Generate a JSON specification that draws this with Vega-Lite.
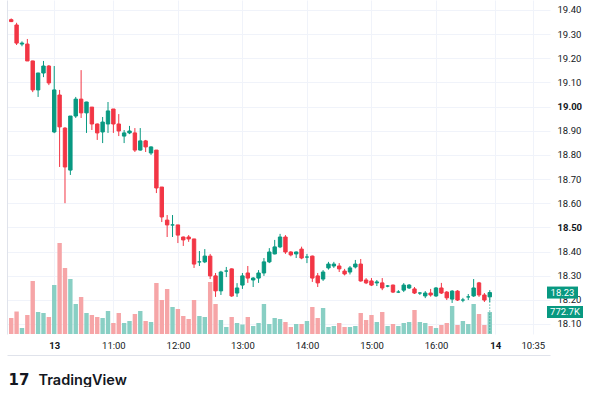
{
  "$schema": "https://vega.github.io/schema/vega-lite/v6.json",
  "width": 543,
  "height": 334,
  "padding": {"left": 7, "top": 0, "right": 0, "bottom": 0},
  "background": "#ffffff",
  "config": {"view": {"stroke": null}, "font": "Roboto"},
  "data": {
    "values": [
      {"i": 0, "open": 19.36, "high": 19.365, "low": 19.35, "close": 19.352, "volume": 560000},
      {"i": 1, "open": 19.338, "high": 19.347, "low": 19.255, "close": 19.263, "volume": 790000},
      {"i": 2, "open": 19.259, "high": 19.27, "low": 19.25, "close": 19.263, "volume": 211000},
      {"i": 3, "open": 19.259, "high": 19.28, "low": 19.189, "close": 19.189, "volume": 667000},
      {"i": 4, "open": 19.189, "high": 19.19, "low": 19.06, "close": 19.069, "volume": 1861000},
      {"i": 5, "open": 19.069, "high": 19.14, "low": 19.04, "close": 19.139, "volume": 773000},
      {"i": 6, "open": 19.139, "high": 19.189, "low": 19.122, "close": 19.168, "volume": 738000},
      {"i": 7, "open": 19.168, "high": 19.172, "low": 19.089, "close": 19.098, "volume": 597000},
      {"i": 8, "open": 18.895, "high": 19.168, "low": 18.89, "close": 19.069, "volume": 1721000},
      {"i": 9, "open": 19.048, "high": 19.069, "low": 18.75, "close": 18.916, "volume": 3196000},
      {"i": 10, "open": 18.911, "high": 18.915, "low": 18.6, "close": 18.75, "volume": 2318000},
      {"i": 11, "open": 18.737, "high": 18.961, "low": 18.717, "close": 18.961, "volume": 1932000},
      {"i": 12, "open": 18.961, "high": 19.04, "low": 18.953, "close": 19.031, "volume": 1054000},
      {"i": 13, "open": 19.031, "high": 19.151, "low": 18.953, "close": 18.974, "volume": 1299000},
      {"i": 14, "open": 18.974, "high": 19.02, "low": 18.891, "close": 19.019, "volume": 738000},
      {"i": 15, "open": 18.998, "high": 18.998, "low": 18.903, "close": 18.928, "volume": 667000},
      {"i": 16, "open": 18.928, "high": 18.93, "low": 18.862, "close": 18.891, "volume": 597000},
      {"i": 17, "open": 18.895, "high": 18.957, "low": 18.849, "close": 18.936, "volume": 562000},
      {"i": 18, "open": 18.928, "high": 19.019, "low": 18.891, "close": 18.982, "volume": 808000},
      {"i": 19, "open": 18.99, "high": 18.99, "low": 18.891, "close": 18.928, "volume": 386000},
      {"i": 20, "open": 18.928, "high": 18.969, "low": 18.878, "close": 18.899, "volume": 738000},
      {"i": 21, "open": 18.878, "high": 18.903, "low": 18.849, "close": 18.891, "volume": 386000},
      {"i": 22, "open": 18.891, "high": 18.92, "low": 18.886, "close": 18.899, "volume": 457000},
      {"i": 23, "open": 18.891, "high": 18.911, "low": 18.812, "close": 18.82, "volume": 702000},
      {"i": 24, "open": 18.82, "high": 18.911, "low": 18.818, "close": 18.858, "volume": 808000},
      {"i": 25, "open": 18.858, "high": 18.862, "low": 18.812, "close": 18.833, "volume": 457000},
      {"i": 26, "open": 18.808, "high": 18.835, "low": 18.8, "close": 18.833, "volume": 421000},
      {"i": 27, "open": 18.82, "high": 18.82, "low": 18.642, "close": 18.663, "volume": 1791000},
      {"i": 28, "open": 18.667, "high": 18.667, "low": 18.522, "close": 18.543, "volume": 1194000},
      {"i": 29, "open": 18.53, "high": 18.551, "low": 18.46, "close": 18.51, "volume": 1580000},
      {"i": 30, "open": 18.51, "high": 18.551, "low": 18.46, "close": 18.51, "volume": 948000},
      {"i": 31, "open": 18.51, "high": 18.51, "low": 18.435, "close": 18.468, "volume": 878000},
      {"i": 32, "open": 18.46, "high": 18.462, "low": 18.423, "close": 18.448, "volume": 632000},
      {"i": 33, "open": 18.46, "high": 18.468, "low": 18.44, "close": 18.452, "volume": 527000},
      {"i": 34, "open": 18.452, "high": 18.452, "low": 18.332, "close": 18.348, "volume": 1194000},
      {"i": 35, "open": 18.357, "high": 18.402, "low": 18.34, "close": 18.357, "volume": 632000},
      {"i": 36, "open": 18.357, "high": 18.41, "low": 18.352, "close": 18.381, "volume": 597000},
      {"i": 37, "open": 18.381, "high": 18.39, "low": 18.286, "close": 18.299, "volume": 1826000},
      {"i": 38, "open": 18.299, "high": 18.311, "low": 18.212, "close": 18.237, "volume": 1054000},
      {"i": 39, "open": 18.237, "high": 18.32, "low": 18.22, "close": 18.315, "volume": 492000},
      {"i": 40, "open": 18.319, "high": 18.336, "low": 18.294, "close": 18.319, "volume": 246000},
      {"i": 41, "open": 18.328, "high": 18.33, "low": 18.212, "close": 18.216, "volume": 597000},
      {"i": 42, "open": 18.228, "high": 18.269, "low": 18.212, "close": 18.249, "volume": 386000},
      {"i": 43, "open": 18.261, "high": 18.311, "low": 18.245, "close": 18.299, "volume": 334000},
      {"i": 44, "open": 18.311, "high": 18.34, "low": 18.27, "close": 18.29, "volume": 597000},
      {"i": 45, "open": 18.282, "high": 18.294, "low": 18.253, "close": 18.29, "volume": 281000},
      {"i": 46, "open": 18.29, "high": 18.323, "low": 18.27, "close": 18.311, "volume": 386000},
      {"i": 47, "open": 18.311, "high": 18.373, "low": 18.299, "close": 18.357, "volume": 1054000},
      {"i": 48, "open": 18.357, "high": 18.414, "low": 18.352, "close": 18.398, "volume": 351000},
      {"i": 49, "open": 18.39, "high": 18.448, "low": 18.388, "close": 18.419, "volume": 562000},
      {"i": 50, "open": 18.419, "high": 18.473, "low": 18.414, "close": 18.46, "volume": 527000},
      {"i": 51, "open": 18.46, "high": 18.468, "low": 18.39, "close": 18.398, "volume": 421000},
      {"i": 52, "open": 18.398, "high": 18.401, "low": 18.38, "close": 18.386, "volume": 246000},
      {"i": 53, "open": 18.39, "high": 18.4, "low": 18.373, "close": 18.398, "volume": 351000},
      {"i": 54, "open": 18.41, "high": 18.42, "low": 18.368, "close": 18.373, "volume": 351000},
      {"i": 55, "open": 18.377, "high": 18.39, "low": 18.352, "close": 18.377, "volume": 457000},
      {"i": 56, "open": 18.381, "high": 18.383, "low": 18.274, "close": 18.29, "volume": 948000},
      {"i": 57, "open": 18.299, "high": 18.311, "low": 18.253, "close": 18.27, "volume": 562000},
      {"i": 58, "open": 18.286, "high": 18.323, "low": 18.278, "close": 18.315, "volume": 913000},
      {"i": 59, "open": 18.332, "high": 18.357, "low": 18.325, "close": 18.348, "volume": 246000},
      {"i": 60, "open": 18.34, "high": 18.357, "low": 18.332, "close": 18.348, "volume": 281000},
      {"i": 61, "open": 18.34, "high": 18.352, "low": 18.315, "close": 18.328, "volume": 386000},
      {"i": 62, "open": 18.319, "high": 18.328, "low": 18.301, "close": 18.307, "volume": 246000},
      {"i": 63, "open": 18.315, "high": 18.34, "low": 18.305, "close": 18.332, "volume": 246000},
      {"i": 64, "open": 18.336, "high": 18.365, "low": 18.33, "close": 18.348, "volume": 281000},
      {"i": 65, "open": 18.348, "high": 18.369, "low": 18.275, "close": 18.278, "volume": 738000},
      {"i": 66, "open": 18.282, "high": 18.29, "low": 18.265, "close": 18.27, "volume": 492000},
      {"i": 67, "open": 18.278, "high": 18.29, "low": 18.257, "close": 18.261, "volume": 667000},
      {"i": 68, "open": 18.27, "high": 18.282, "low": 18.257, "close": 18.274, "volume": 421000},
      {"i": 69, "open": 18.27, "high": 18.29, "low": 18.24, "close": 18.249, "volume": 773000},
      {"i": 70, "open": 18.257, "high": 18.261, "low": 18.252, "close": 18.257, "volume": 281000},
      {"i": 71, "open": 18.261, "high": 18.263, "low": 18.228, "close": 18.232, "volume": 351000},
      {"i": 72, "open": 18.232, "high": 18.24, "low": 18.228, "close": 18.232, "volume": 281000},
      {"i": 73, "open": 18.24, "high": 18.269, "low": 18.232, "close": 18.261, "volume": 386000},
      {"i": 74, "open": 18.249, "high": 18.265, "low": 18.245, "close": 18.261, "volume": 421000},
      {"i": 75, "open": 18.245, "high": 18.253, "low": 18.224, "close": 18.228, "volume": 843000},
      {"i": 76, "open": 18.228, "high": 18.232, "low": 18.22, "close": 18.228, "volume": 421000},
      {"i": 77, "open": 18.216, "high": 18.236, "low": 18.207, "close": 18.228, "volume": 386000},
      {"i": 78, "open": 18.228, "high": 18.245, "low": 18.213, "close": 18.22, "volume": 281000},
      {"i": 79, "open": 18.216, "high": 18.253, "low": 18.212, "close": 18.249, "volume": 211000},
      {"i": 80, "open": 18.249, "high": 18.27, "low": 18.224, "close": 18.228, "volume": 316000},
      {"i": 81, "open": 18.232, "high": 18.236, "low": 18.199, "close": 18.208, "volume": 386000},
      {"i": 82, "open": 18.203, "high": 18.24, "low": 18.187, "close": 18.236, "volume": 983000},
      {"i": 83, "open": 18.236, "high": 18.24, "low": 18.195, "close": 18.199, "volume": 316000},
      {"i": 84, "open": 18.199, "high": 18.208, "low": 18.19, "close": 18.199, "volume": 457000},
      {"i": 85, "open": 18.212, "high": 18.224, "low": 18.199, "close": 18.212, "volume": 351000},
      {"i": 86, "open": 18.216, "high": 18.286, "low": 18.212, "close": 18.249, "volume": 1054000},
      {"i": 87, "open": 18.27, "high": 18.274, "low": 18.212, "close": 18.22, "volume": 702000},
      {"i": 88, "open": 18.22, "high": 18.228, "low": 18.191, "close": 18.199, "volume": 316000},
      {"i": 89, "open": 18.212, "high": 18.24, "low": 18.191, "close": 18.23, "volume": 772700}
    ]
  },
  "layer": [
    {
      "mark": {"type": "bar", "size": 4.4, "clip": true},
      "encoding": {
        "x": {
          "field": "i", "type": "quantitative",
          "scale": {"domain": [0.146, 99.27], "nice": false, "zero": false},
          "axis": {
            "orient": "bottom", "offset": 21, "domain": true, "domainColor": "#E0E3EB",
            "ticks": false, "labels": false, "grid": false,
            "title": "TradingView", "titleFont": "Inter", "titleFontSize": 14.5, "titleFontWeight": 600,
            "titleColor": "#131722", "titleAnchor": "start", "titleAlign": "left", "titleBaseline": "alphabetic",
            "titleX": 31, "titleY": 29
          }
        },
        "y": {
          "field": "volume", "type": "quantitative",
          "scale": {"domain": [0, 11731000], "nice": false},
          "axis": null
        },
        "color": {
          "condition": {"test": "datum.close >= datum.open", "value": "#89CFC4"},
          "value": "#F6A5A7"
        }
      }
    },
    {
      "encoding": {
        "x": {
          "field": "i", "type": "quantitative",
          "scale": {"domain": [0.146, 99.27], "nice": false, "zero": false},
          "axis": {
            "orient": "bottom",
            "values": [8, 19, 31, 43, 55, 67, 79, 90, 97],
            "labelExpr": "datum.value == 8 ? '13' : datum.value == 19 ? '11:00' : datum.value == 31 ? '12:00' : datum.value == 43 ? '13:00' : datum.value == 55 ? '14:00' : datum.value == 67 ? '15:00' : datum.value == 79 ? '16:00' : datum.value == 90 ? '14' : '10:35'",
            "labelFontWeight": {"condition": {"test": "datum.value == 8 || datum.value == 90", "value": "bold"}, "value": "normal"},
            "grid": true, "gridColor": "#F0F3FA", "domain": false, "ticks": false,
            "labelPadding": 6, "labelFlush": false, "labelFontSize": 9.5, "labelColor": "#131722",
            "title": "17", "titleFont": "DejaVu Sans", "titleFontWeight": 900, "titleFontSize": 15,
            "titleColor": "#131722", "titleAnchor": "start", "titleAlign": "left", "titleBaseline": "alphabetic",
            "titleX": 1, "titleY": 50
          }
        },
        "color": {
          "condition": {"test": "datum.close >= datum.open", "value": "#089981"},
          "value": "#F23645"
        }
      },
      "layer": [
        {
          "mark": {"type": "rule", "strokeWidth": 1, "clip": true},
          "encoding": {
            "y": {
              "field": "low", "type": "quantitative",
              "scale": {"domain": [18.0584, 19.4414], "nice": false, "zero": false},
              "axis": {
                "orient": "right",
                "values": [18.1, 18.2, 18.3, 18.4, 18.5, 18.6, 18.7, 18.8, 18.9, 19.0, 19.1, 19.2, 19.3, 19.4],
                "format": ".2f", "grid": true, "gridColor": "#F0F3FA", "domain": false, "ticks": false,
                "labelPadding": 7, "labelAlign": "left", "labelFontSize": 9.5, "labelColor": "#131722",
                "labelFontWeight": {"condition": {"test": "datum.value == 19 || datum.value == 18.5", "value": "bold"}, "value": "normal"},
                "title": null
              }
            },
            "y2": {"field": "high"}
          }
        },
        {
          "mark": {"type": "bar", "size": 3.4, "strokeWidth": 1, "clip": true},
          "encoding": {
            "y": {
              "field": "open", "type": "quantitative",
              "scale": {"domain": [18.0584, 19.4414], "nice": false, "zero": false},
              "axis": {"orient": "left", "domain": true, "domainColor": "#E0E3EB", "labels": false, "ticks": false, "grid": false, "title": null}
            },
            "y2": {"field": "close"},
            "stroke": {
              "condition": {"test": "datum.close >= datum.open", "value": "#089981"},
              "value": "#F23645"
            }
          }
        },
        {
          "transform": [{"filter": "datum.i == 89"}],
          "mark": {"type": "rule", "strokeDash": [1, 2], "strokeWidth": 1, "color": "#089981"},
          "encoding": {
            "color": {"value": "#089981"},
            "y": {
              "field": "close", "type": "quantitative",
              "scale": {"domain": [18.0584, 19.4414], "nice": false, "zero": false},
              "axis": {"orient": "right", "offset": 42, "domain": true, "domainColor": "#E0E3EB", "labels": false, "ticks": false, "grid": false, "title": null}
            }
          }
        }
      ],
      "resolve": {"axis": {"y": "independent"}}
    },
    {
      "transform": [{"filter": "datum.i == 89"}],
      "encoding": {
        "x": {"datum": 99.27, "type": "quantitative", "scale": {"domain": [0.146, 99.27], "nice": false, "zero": false}, "axis": null},
        "y": {"field": "close", "type": "quantitative", "scale": {"domain": [18.0584, 19.4414], "nice": false, "zero": false}, "axis": null}
      },
      "layer": [
        {"mark": {"type": "rect", "width": 31, "height": 12, "xOffset": 17.5, "color": "#089981"}},
        {
          "mark": {"type": "text", "xOffset": 17.5, "color": "#ffffff", "fontSize": 9.5, "align": "center", "baseline": "middle"},
          "encoding": {"text": {"field": "close", "type": "quantitative", "format": ".2f"}}
        }
      ]
    },
    {
      "transform": [
        {"filter": "datum.i == 89"},
        {"calculate": "format(datum.volume / 1000, '.1f') + 'K'", "as": "vlabel"}
      ],
      "encoding": {
        "x": {"datum": 99.27, "type": "quantitative", "scale": {"domain": [0.146, 99.27], "nice": false, "zero": false}, "axis": null},
        "y": {"field": "volume", "type": "quantitative", "scale": {"domain": [0, 11731000], "nice": false}, "axis": null}
      },
      "layer": [
        {"mark": {"type": "rect", "width": 36, "height": 12, "xOffset": 20, "color": "#089981"}},
        {
          "mark": {"type": "text", "xOffset": 20, "color": "#ffffff", "fontSize": 9.5, "align": "center", "baseline": "middle"},
          "encoding": {"text": {"field": "vlabel", "type": "nominal"}}
        }
      ]
    }
  ],
  "resolve": {"scale": {"y": "independent"}, "axis": {"x": "independent"}}
}
